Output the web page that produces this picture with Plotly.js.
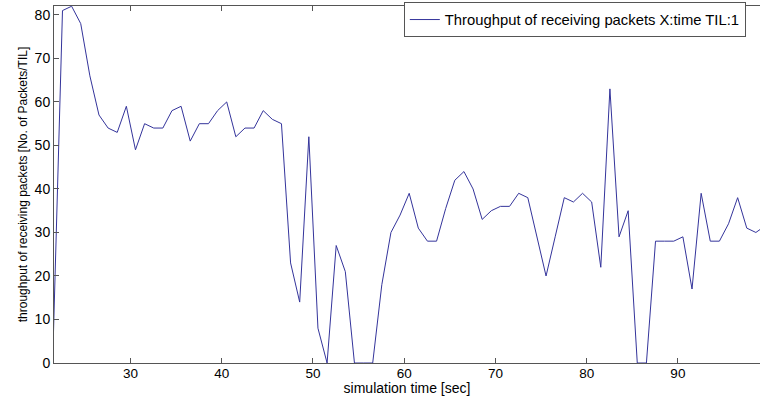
<!DOCTYPE html>
<html>
<head>
<meta charset="utf-8">
<script src="https://cdn.plot.ly/plotly-3.0.1.min.js"></script>
<style>html,body{margin:0;padding:0;background:#fff;}#chart{width:760px;height:396px;}</style>
</head>
<body>
<div id="chart"></div>
<script>
// simulation time [sec]
var timeSec = [21.55, 22.55, 23.55, 24.55, 25.55, 26.55, 27.55, 28.55, 29.55, 30.55,
  31.55, 32.55, 33.55, 34.55, 35.55, 36.55, 37.55, 38.55, 39.55, 40.55,
  41.55, 42.55, 43.55, 44.55, 45.55, 46.55, 47.55, 48.55, 49.55, 50.55,
  51.55, 52.55, 53.55, 54.55, 55.55, 56.55, 57.55, 58.55, 59.55, 60.55,
  61.55, 62.55, 63.55, 64.55, 65.55, 66.55, 67.55, 68.55, 69.55, 70.55,
  71.55, 72.55, 73.55, 74.55, 75.55, 76.55, 77.55, 78.55, 79.55, 80.55,
  81.55, 82.55, 83.55, 84.55, 85.55, 86.55, 87.55, 88.55, 89.55, 90.55,
  91.55, 92.55, 93.55, 94.55, 95.55, 96.55, 97.55, 98.55, 99.55];
// throughput of receiving packets [No. of Packets/TIL]
var throughput = [6, 81, 82, 78, 66, 57, 54, 53, 59, 49,
  55, 54, 54, 58, 59, 51, 55, 55, 58, 60,
  52, 54, 54, 58, 56, 55, 23, 14, 52, 8,
  0, 27, 21, 0, 0, 0, 18, 30, 34, 39,
  31, 28, 28, 35.5, 42, 44, 40, 33, 35, 36,
  36, 39, 38, 29, 20, 29, 38, 37, 39, 37,
  22, 63, 29, 35, 0, 0, 28, 28, 28, 29,
  17, 39, 28, 28, 32, 38, 31, 30, 31.5];
var seriesName = "Throughput of receiving packets X:time TIL:1";
var xTickVals = [30, 40, 50, 60, 70, 80, 90];
var yTickVals = [0, 10, 20, 30, 40, 50, 60, 70, 80];

var fam = "Arial, 'Liberation Sans', sans-serif";

var trace = {
  x: timeSec, y: throughput, type: "scatter", mode: "lines",
  name: seriesName,
  line: {color: "rgb(52,52,155)", width: 1},
  showlegend: true
};

var layout = {
  width: 760, height: 396,
  margin: {l: 54, r: 0, t: 6, b: 33, pad: 0},
  paper_bgcolor: "#fff", plot_bgcolor: "#fff",
  font: {family: fam, size: 14, color: "#000"},
  showlegend: true,
  xaxis: {
    range: [21.62, 99.0], tickvals: xTickVals, ticks: "inside", ticklen: 5,
    tickcolor: "#555", showline: true, linecolor: "#555", linewidth: 1,
    mirror: "allticks", showgrid: false, zeroline: false,
    ticklabelstandoff: -2,
    tickfont: {family: fam, size: 13.5, color: "#000"},
    title: {text: "simulation time [sec]", font: {family: fam, size: 14, color: "#000"}, standoff: 3}
  },
  yaxis: {
    range: [0, 82.05], tickvals: yTickVals, ticks: "inside", ticklen: 5,
    tickcolor: "#555", showline: true, linecolor: "#555", linewidth: 1,
    mirror: false, showgrid: false, zeroline: false,
    tickfont: {family: fam, size: 14, color: "#000"},
    title: {text: "throughput of receiving packets [No. of Packets/TIL]", font: {family: fam, size: 12, color: "#000"}, standoff: 4}
  },
  legend: {
    x: 0.4955, y: 0.961, xanchor: "left", yanchor: "middle",
    bgcolor: "#fff", bordercolor: "#555", borderwidth: 1,
    font: {family: fam, size: 14.8, color: "#000"}
  }
};

Plotly.newPlot("chart", [trace], layout, {staticPlot: true, displayModeBar: false});
</script>
</body>
</html>
